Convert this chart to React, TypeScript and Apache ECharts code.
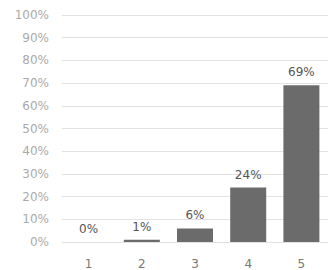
import React, { useEffect, useRef } from "react";
import * as echarts from "echarts";

const categories = ["1", "2", "3", "4", "5"];
const values = [0, 1, 6, 24, 69];
const yTicks = [0, 10, 20, 30, 40, 50, 60, 70, 80, 90, 100];

export default function App() {
  const ref = useRef<HTMLDivElement>(null);
  useEffect(() => {
    document.body.style.margin = "0";
    const chart = echarts.init(ref.current!, null, { renderer: "svg" });
    chart.setOption({
      animation: false,
      backgroundColor: "#ffffff",
      grid: { left: 62, top: 15, width: 270, height: 227 },
      xAxis: {
        type: "category",
        data: categories,
        axisLine: { show: false },
        axisTick: { show: false },
        axisLabel: { color: "#777", fontFamily: "DejaVu Sans", fontSize: 12, margin: 16 },
      },
      yAxis: {
        type: "value",
        min: yTicks[0],
        max: yTicks[yTicks.length - 1],
        interval: 10,
        axisLine: { show: false },
        axisTick: { show: false },
        splitLine: { lineStyle: { color: "#e2e2e2", width: 1 } },
        axisLabel: {
          color: "#aaa",
          fontFamily: "DejaVu Sans",
          fontSize: 12,
          margin: 13,
          formatter: (v: number) => v + "%",
        },
      },
      series: [
        {
          type: "bar",
          data: values,
          barWidth: 36,
          itemStyle: { color: "#6b6b6b" },
          label: {
            show: true,
            position: "top",
            distance: 7,
            color: "#555",
            fontFamily: "DejaVu Sans",
            fontSize: 12,
            formatter: (p: any) => p.value + "%",
          },
        },
      ],
    });
    return () => chart.dispose();
  }, []);
  return <div ref={ref} style={{ width: 328, height: 270 }} />;
}
